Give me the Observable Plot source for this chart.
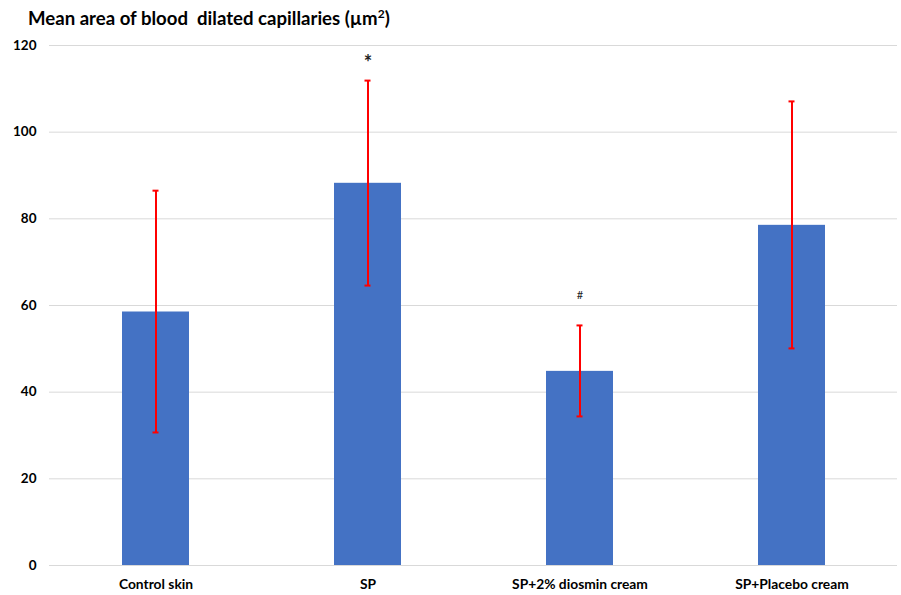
<!DOCTYPE html>
<html>
<head>
<meta charset="utf-8">
<script src="https://cdn.jsdelivr.net/npm/d3@7"></script>
<script src="https://cdn.jsdelivr.net/npm/@observablehq/plot@0.6"></script>
<style>
  html, body { margin: 0; padding: 0; background: #fff; }
  #wrap { position: relative; width: 901px; height: 595px; }
  #title { position: absolute; left: 28px; top: 6px; font-family: Lato, "Open Sans", sans-serif; font-weight: bold; font-size: 18.6px; color: #000; white-space: pre; }
  #title sup { font-size: 12px; }
</style>
</head>
<body>
<div id="wrap">
  <div id="title">Mean area of blood  dilated capillaries (µm<sup>2</sup>)</div>
</div>
<script>
const categories = ["Control skin", "SP", "SP+2% diosmin cream", "SP+Placebo cream"];
const means = [58.5, 88.2, 44.8, 78.5];
const upper = [86.5, 111.9, 55.4, 107.1];
const lower = [30.7, 64.6, 34.4, 50.1];
const signs = ["", "*", "#", ""];
const yTicks = [0, 20, 40, 60, 80, 100, 120];

const data = categories.map((c, i) => ({cat: c, mean: means[i], hi: upper[i], lo: lower[i], sign: signs[i]}));

const chart = Plot.plot({
  width: 901,
  height: 595,
  marginTop: 45,
  marginBottom: 30,
  marginLeft: 49,
  marginRight: 4,
  style: {fontFamily: "Lato, 'Open Sans', sans-serif", background: "white", color: "#000"},
  x: {domain: categories, paddingInner: 0.685, paddingOuter: 0.3425, label: null},
  y: {domain: [0, 120], label: null},
  marks: [
    Plot.gridY(yTicks, {stroke: "#d9d9d9", strokeOpacity: 1, strokeWidth: 1}),
    Plot.axisY({ticks: yTicks, tickSize: 0, tickPadding: 13, fontSize: 13.5, fontWeight: "bold", label: null}),
    Plot.axisX({tickSize: 0, tickPadding: 14, fontSize: 13.8, fontWeight: "bold", label: null}),
    Plot.barY(data, {x: "cat", y: "mean", fill: "#4472C4"}),
    Plot.ruleY([0], {stroke: "#d9d9d9", strokeWidth: 1}),
    Plot.ruleX(data, {x: "cat", y1: "lo", y2: "hi", stroke: "#ff0000", strokeWidth: 2}),
    Plot.tickY(data, {x: "cat", y: "hi", stroke: "#ff0000", strokeWidth: 2, insetLeft: 30.5, insetRight: 30.5}),
    Plot.tickY(data, {x: "cat", y: "lo", stroke: "#ff0000", strokeWidth: 2, insetLeft: 30.5, insetRight: 30.5}),
    Plot.text(data.filter(d => d.sign === "*"), {x: "cat", y: "hi", text: "sign", dy: -17, fontSize: 20, fontWeight: "bold", fill: "#222"}),
    Plot.text(data.filter(d => d.sign === "#"), {x: "cat", y: "hi", text: "sign", dy: -30, fontSize: 11, fill: "#222"})
  ]
});
document.getElementById("wrap").prepend(chart);
chart.style.position = "absolute";
chart.style.left = "0";
chart.style.top = "0";
</script>
</body>
</html>
